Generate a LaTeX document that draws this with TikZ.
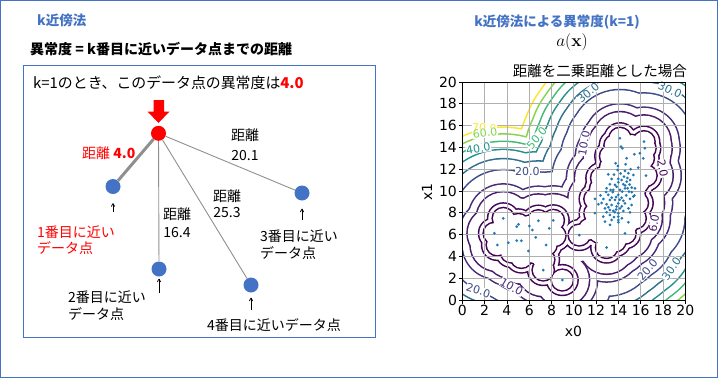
\documentclass[tikz,border=0pt]{standalone}
\usepackage[no-math]{fontspec}
\setmainfont{Noto Sans CJK JP}
\newfontfamily\plotfont{DejaVu Sans}
\usetikzlibrary{arrows.meta}

\definecolor{msblue}{HTML}{4472C4}
\definecolor{linegray}{HTML}{8F8F8F}
\definecolor{scatblue}{HTML}{1F77B4}
\definecolor{gridgray}{HTML}{B0B0B0}
\definecolor{lv0}{HTML}{440154}
\definecolor{lv2}{HTML}{450559}
\definecolor{lv6}{HTML}{481A6C}
\definecolor{lv10}{HTML}{472A7A}
\definecolor{lv20}{HTML}{3E4A89}
\definecolor{lv30}{HTML}{2D708E}
\definecolor{lv40}{HTML}{21918C}
\definecolor{lv50}{HTML}{3BBB75}
\definecolor{lv60}{HTML}{86D549}
\definecolor{lv70}{HTML}{FDE725}

\tikzset{query/.style = {fill=red, circle, inner sep = 0, minimum size = 15}}
\tikzset{datapt/.style = {fill=msblue, circle, inner sep = 0, minimum size = 15}}
\tikzset{jtext/.style = {font=\fontsize{14}{16.5}\selectfont, inner sep = 0, align = left}}
\tikzset{uparrow/.style = {-{To[length=3.5, width=4]}, line width = 0.75}}
\tikzset{clabel/.style = {font=\plotfont\fontsize{11}{12}\selectfont, fill=white, inner sep = 0.4}}
\tikzset{ticklabel/.style = {font=\plotfont\fontsize{14}{14}\selectfont, inner sep = 1.5}}

% data points
\def\leftcluster{2.87/6.12, 3.68/7.49, 3.14/5.05, 4.13/5.26, 4.88/6.73, 5.03/6.94, 4.88/5.44, 5.29/5.44, 5.92/4.50, 6.01/6.79, 6.28/6.42, 6.58/5.75, 6.82/7.28, 7.51/5.05, 7.80/6.58, 8.16/7.31, 7.26/2.75, 8.97/1.83}
\def\rightcluster{14.14/14.84, 16.29/14.53, 14.23/14.07, 14.35/13.92, 14.74/13.00, 15.43/13.37, 15.93/13.46, 16.38/13.92, 16.23/13.00, 13.75/12.54, 14.65/12.45, 15.78/12.15, 13.93/11.93, 14.59/11.84, 14.89/11.63, 15.34/11.47, 13.09/11.53, 14.50/11.32, 16.47/11.41, 13.39/11.11, 13.99/11.11, 14.29/11.01, 15.04/11.01, 14.74/10.86, 13.24/10.62, 13.69/10.56, 14.44/10.62, 12.94/10.25, 13.84/10.40, 14.59/10.25, 14.83/10.25, 15.19/10.31, 15.49/10.25, 13.54/10.10, 14.14/10.10, 14.35/9.94, 14.95/9.94, 13.09/9.64, 13.99/9.64, 15.43/9.58, 11.90/9.27, 12.65/9.27, 13.24/9.18, 13.69/9.18, 14.29/9.39, 15.04/9.27, 15.34/9.49, 12.20/8.78, 12.94/8.78, 13.39/8.72, 13.99/8.87, 14.59/8.87, 15.19/8.72, 12.79/8.41, 13.24/8.26, 13.84/8.57, 14.14/8.41, 13.54/8.17, 14.44/8.17, 11.90/7.96, 12.94/8.05, 13.69/8.05, 13.99/7.96, 15.04/8.05, 12.65/7.65, 13.24/7.80, 13.99/7.65, 13.39/7.34, 13.99/7.34, 12.79/7.19, 14.89/7.13, 13.24/6.89, 13.99/7.13, 14.59/6.12, 12.94/4.81, 10.49/5.96, 13.5/9.9, 14.1/9.2, 14.7/9.6, 13.8/8.3, 14.3/8.6, 13.1/8.5, 14.6/10.5, 13.4/9.4, 14.0/10.8, 15.0/10.6, 13.6/11.5, 14.2/11.6, 12.9/9.9, 13.8/9.45, 14.45/9.1, 12.5/8.9, 13.6/7.6, 14.3/7.5, 15.2/9.9, 14.8/11.2, 13.3/10.1, 14.9/8.4, 12.4/9.6, 13.95/12.3, 15.1/12.0}
% extra centres inside the clusters (coarse grid fills the gaps)
\def\gapfill{3.5/6.3, 4.2/6.1, 4.1/7.0, 5.6/6.3, 6.1/5.6, 7.1/5.8, 7.2/6.9, 5.4/4.9, 4.4/4.4, 5.3/3.9, 6.6/4.3, 7.3/3.7, 8.3/5.9, 11.4/6.5, 12.0/7.2, 12.3/6.2, 13.0/5.7, 13.7/5.4, 14.0/6.4, 12.4/10.2, 12.5/11.2, 13.3/12.2, 13.3/13.2, 13.7/14.2, 15.2/14.2, 15.0/12.6, 16.0/12.7, 15.8/10.8, 15.7/8.9, 15.5/7.5, 12.2/8.1}

\begin{document}
\begin{tikzpicture}[x=1pt, y=-1pt]
  \useasboundingbox (0,0) rectangle (719,378);
  \draw [msblue, line width = 1] (0.5,0.5) rectangle (717.5,377.5);

  % left panel
  \node [anchor = base west, inner sep = 0, text = msblue, font = \bfseries\fontsize{13.5}{16}\selectfont] (lefttitle) at (37,25) {k近傍法};
  \node [anchor = base west, inner sep = 0, font = \bfseries\fontsize{14}{16}\selectfont] (rule) at (30,54.5) {異常度 = k番目に近いデータ点までの距離};
  \draw [msblue, line width = 0.8] (23,65.5) rectangle (375.5,337.5);
  \node [jtext, anchor = base west, font = \fontsize{14.9}{16}\selectfont] (note) at (33,88.5) {k=1のとき、このデータ点の異常度は{\bfseries\color{red}4.0}};

  \fill [red] (153.5,100) -- (164,100) -- (164,111.5) -- (169.5,111.5) -- (158.5,123) -- (147.5,111.5) -- (153.5,111.5) -- cycle;

  \node [query] (q) at (158.5,133.3) {};
  \node [datapt] (n1) at (113,186.5) {};
  \node [datapt] (n2) at (159,269) {};
  \node [datapt] (n3) at (302,193) {};
  \node [datapt] (n4) at (251,285) {};

  \draw [linegray, line width = 3] (q) -- (n1);
  \draw [linegray, line width = 0.9] (q) -- (n2);
  \draw [linegray, line width = 0.9] (q) -- (n3);
  \draw [linegray, line width = 0.9] (q) -- (n4);

  % multi-line nodes: base = last line
  \node [jtext, anchor = base west, text = red] (d1) at (82,158.5) {距離 \textbf{4.0}};
  \node [jtext, anchor = base, align = center, font = \fontsize{14}{20}\selectfont] (d3) at (245,160) {距離\\20.1};
  \node [jtext, anchor = base, align = center, font = \fontsize{14}{16}\selectfont] (d4) at (227,217) {距離\\25.3};
  \node [jtext, anchor = base, align = center, font = \fontsize{14}{18}\selectfont] (d2) at (177,237) {距離\\16.4};

  \coordinate (a1) at (113,212);
  \coordinate (a2) at (159,293);
  \coordinate (a3) at (302,220);
  \coordinate (a4) at (251,310);
  \draw [uparrow, shorten >= 9] (a1) -- (n1);
  \draw [uparrow, shorten >= 2] (a2) -- (n2);
  \draw [uparrow, shorten >= 8] (a3) -- (n3);
  \draw [uparrow, shorten >= 5] (a4) -- (n4);

  \node [jtext, anchor = base west, text = red] (lab1) at (37,253.6) {1番目に近い\\データ点};
  \node [jtext, anchor = base west] (lab2) at (68,319.3) {2番目に近い\\データ点};
  \node [jtext, anchor = base west, font = \fontsize{14}{17.3}\selectfont] (lab3) at (260,258.6) {3番目に近い\\データ点};
  \node [jtext, anchor = base west] (lab4) at (207,330.3) {4番目に近いデータ点};

  % right panel
  \node [inner sep = 0, text = msblue, font = \bfseries\fontsize{13.5}{16}\selectfont] (plottitle) at (557,22) {k近傍法による異常度(k=1)};
  \node [inner sep = 0, font = \fontsize{16}{18}\selectfont] (score) at (572,42) {$a(\mathbf{x})$};
  \node [inner sep = 0, anchor = east, font = \fontsize{14.5}{16}\selectfont] (subtitle) at (687,71) {距離を二乗距離とした場合};

  \begin{scope}[shift={(462.3,300)}, x=11.15pt, y=10.9pt]
    \begin{scope}
      \clip (0,0) rectangle (20,20);
      \fill [white] (0,0) rectangle (20,20);
      \foreach \r/\c in {8.367/lv70, 7.746/lv60, 7.071/lv50, 6.325/lv40, 5.477/lv30, 4.472/lv20, 3.162/lv10, 2.449/lv6, 1.414/lv2, 1.0/lv0} {
        \foreach \px/\py in \leftcluster {\fill [\c] (\px,\py) circle [radius = \r + 0.07];}
        \foreach \px/\py in \rightcluster {\fill [\c] (\px,\py) circle [radius = \r + 0.07];}
        \foreach \px/\py in \gapfill {\fill [\c] (\px,\py) circle [radius = \r + 0.07];}
        \foreach \px/\py in \leftcluster {\fill [white] (\px,\py) circle [radius = \r - 0.07];}
        \foreach \px/\py in \rightcluster {\fill [white] (\px,\py) circle [radius = \r - 0.07];}
        \foreach \px/\py in \gapfill {\fill [white] (\px,\py) circle [radius = \r - 0.07];}
      }
      \draw [gridgray, line width = 0.7] (0,0) grid [step = 2] (20,20);
    \end{scope}

    \node [clabel, text = lv70, rotate = -3] (c70) at (1.97,15.8) {70.0};
    \node [clabel, text = lv60, rotate = 8] (c60) at (2.04,15.3) {60.0};
    \node [clabel, text = lv40, rotate = 10] (c40) at (1.44,13.9) {40.0};
    \node [clabel, text = lv50, rotate = 50] (c50) at (6.67,14.83) {50.0};
    \node [clabel, text = lv20, rotate = 0] (c20a) at (5.83,11.77) {20.0};
    \node [clabel, text = lv30, rotate = 40] (c30a) at (11.3,19.0) {30.0};
    \node [clabel, text = lv30, rotate = -25] (c30b) at (18.63,19.3) {30.0};
    \node [clabel, text = lv10, rotate = 80] (c10a) at (10.91,14.37) {10.0};
    \node [clabel, text = lv2, rotate = -80] (c2) at (17.97,12.08) {2.0};
    \node [clabel, text = lv6, rotate = 80] (c6) at (17.19,7.03) {6.0};
    \node [clabel, text = lv20, rotate = 50] (c20b) at (16.6,2.8) {20.0};
    \node [clabel, text = lv30, rotate = 55] (c30c) at (18.75,2.85) {30.0};
    \node [clabel, text = lv10, rotate = -30] (c10b) at (4.43,1.22) {10.0};
    \node [clabel, text = lv20, rotate = -18] (c20c) at (1.44,0.86) {20.0};

    \foreach \px/\py in \leftcluster {\fill [scatblue] (\px,\py) circle [radius = 1.5pt];}
    \foreach \px/\py in \rightcluster {\fill [scatblue] (\px,\py) circle [radius = 1.5pt];}

    \draw [line width = 0.8] (0,0) rectangle (20,20);
    \foreach \t in {0,2,...,20} {
      \draw [line width = 0.8] (\t,0) -- ++(0,-3.5pt) node [ticklabel, below] (xt\t) {\t};
      \draw [line width = 0.8] (0,\t) -- ++(-3.5pt,0) node [ticklabel, left] (yt\t) {\t};
    }
  \end{scope}
  \node [font = \plotfont\fontsize{14}{14}\selectfont] (xlab) at (573.5,331) {x0};
  \node [font = \plotfont\fontsize{14}{14}\selectfont, rotate = 90] (ylab) at (427,192) {x1};
\end{tikzpicture}
\end{document}
